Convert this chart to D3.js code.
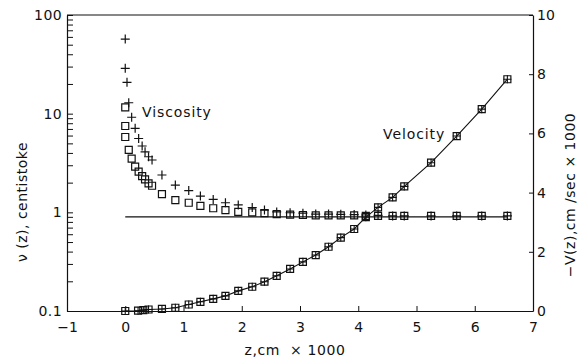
<!DOCTYPE html>
<html>
<head>
<meta charset="utf-8">
<script src="https://cdn.jsdelivr.net/npm/d3@7"></script>
<style>
  html, body { margin: 0; padding: 0; background: #fff; }
  svg { display: block; }
  text { font-family: "DejaVu Sans", sans-serif; fill: #111; }
</style>
</head>
<body>
<svg id="chart" width="584" height="361"></svg>
<script>
// Viscosity profile, "+" symbols (centistoke) vs height z (cm x 1000)
const plusZ = [0, 0, 0.03, 0.06, 0.11, 0.17, 0.23, 0.29, 0.34, 0.40, 0.46, 0.63, 0.86, 1.09, 1.29, 1.51, 1.72, 1.94, 2.18, 2.39, 2.60, 2.83, 3.05, 3.27, 3.49, 3.70, 3.93, 4.13, 4.34, 4.59, 4.79, 5.25, 5.69, 6.12, 6.56];
const plusV = [57, 28.8, 20.8, 12.9, 9.2, 7.1, 5.6, 4.7, 4.1, 3.66, 3.39, 2.39, 1.89, 1.66, 1.46, 1.35, 1.25, 1.19, 1.12, 1.055, 1.01, 0.99, 0.98, 0.96, 0.96, 0.955, 0.95, 0.94, 0.93, 0.92, 0.92, 0.92, 0.92, 0.92, 0.92];

// Viscosity profile, square symbols
const boxZ = [0, 0, 0, 0.06, 0.11, 0.17, 0.23, 0.29, 0.34, 0.40, 0.46, 0.63, 0.86, 1.09, 1.29, 1.51, 1.72, 1.94, 2.18, 2.39, 2.60, 2.83, 3.05, 3.27, 3.49, 3.70, 3.93, 4.13, 4.34, 4.59, 4.79, 5.25, 5.69, 6.12, 6.56];
const boxV = [11.6, 7.5, 5.8, 4.3, 3.5, 2.9, 2.58, 2.33, 2.16, 1.97, 1.86, 1.53, 1.33, 1.25, 1.16, 1.10, 1.055, 1.01, 1.0, 0.98, 0.96, 0.95, 0.94, 0.93, 0.93, 0.93, 0.93, 0.92, 0.92, 0.92, 0.92, 0.92, 0.92, 0.92, 0.92];

// Bulk viscosity reference line
const bulkViscosity = 0.9;
const bulkZ = [0, 6.56];

// Velocity profile, -V(z) in cm/sec x 1000
const velZ = [0, 0.22, 0.31, 0.40, 0.63, 0.86, 1.09, 1.29, 1.51, 1.72, 1.94, 2.18, 2.39, 2.60, 2.83, 3.05, 3.27, 3.49, 3.70, 3.93, 4.13, 4.34, 4.59, 4.79, 5.25, 5.69, 6.12, 6.56];
const velV = [0, 0.01, 0.03, 0.05, 0.07, 0.11, 0.22, 0.31, 0.41, 0.51, 0.68, 0.82, 0.99, 1.19, 1.42, 1.66, 1.89, 2.17, 2.48, 2.77, 3.17, 3.50, 3.84, 4.21, 5.01, 5.91, 6.82, 7.83];

// Axis ticks
const xTicks = [-1, 0, 1, 2, 3, 4, 5, 6, 7];
const leftMajor = [0.1, 1, 10, 100];
const leftLabels = ["0.1", "1", "10", "100"];
const rightTicks = [0, 2, 4, 6, 8, 10];

const svg = d3.select("#chart");
const ink = "#111";

const x = d3.scaleLinear().domain([-1, 7]).range([67, 533]);
const yL = d3.scaleLog().domain([0.1, 100]).range([311, 15]);
const yR = d3.scaleLinear().domain([0, 10]).range([311, 15]);

// All log ticks (1..9 in each decade)
const leftAll = yL.ticks();

// Frame top line
svg.append("line")
  .attr("x1", x(-1)).attr("x2", x(7))
  .attr("y1", yL(100)).attr("y2", yL(100))
  .attr("stroke", ink).attr("stroke-width", 1.2);

// Bottom axis (ticks point inward)
const gx = svg.append("g").attr("transform", `translate(0,${yL(0.1)})`)
  .call(d3.axisBottom(x).tickValues(xTicks).tickSizeInner(-5).tickSizeOuter(0)
    .tickPadding(11).tickFormat(d3.format("d")));

// Left log axis
const gl = svg.append("g").attr("transform", `translate(${x(-1)},0)`)
  .call(d3.axisLeft(yL).tickValues(leftAll).tickSizeInner(-6).tickSizeOuter(0)
    .tickPadding(5)
    .tickFormat(d => { const i = leftMajor.findIndex(v => Math.abs(v - d) < 1e-9); return i >= 0 ? leftLabels[i] : ""; }));

// Right linear axis
const gr = svg.append("g").attr("transform", `translate(${x(7)},0)`)
  .call(d3.axisRight(yR).tickValues(rightTicks).tickSizeInner(-4).tickSizeOuter(0)
    .tickPadding(4).tickFormat(d3.format("d")));

[gx, gl, gr].forEach(g => {
  g.select(".domain").attr("stroke", ink).attr("stroke-width", 1.2);
  g.selectAll(".tick line").attr("stroke", ink).attr("stroke-width", 1);
  g.selectAll(".tick text").attr("font-family", "DejaVu Sans, sans-serif")
    .attr("font-size", 14).attr("fill", ink);
});
gl.selectAll(".tick text").attr("letter-spacing", 0.4);

// Custom plus glyph for d3.symbol
const plusSymbol = {
  draw(ctx, size) {
    const r = Math.sqrt(size) / 2;
    ctx.moveTo(-r, 0); ctx.lineTo(r, 0);
    ctx.moveTo(0, -r); ctx.lineTo(0, r);
  }
};
const plusPath = d3.symbol().type(plusSymbol).size(81)();
const boxPath = d3.symbol().type(d3.symbolSquare).size(49)();
const velPlusPath = d3.symbol().type(plusSymbol).size(64)();

// Bulk viscosity line
svg.append("line")
  .attr("x1", x(bulkZ[0])).attr("x2", x(bulkZ[1]))
  .attr("y1", yL(bulkViscosity)).attr("y2", yL(bulkViscosity))
  .attr("stroke", ink).attr("stroke-width", 1.2);

// Velocity line
const velPts = velZ.map((z, i) => [z, velV[i]]);
svg.append("path")
  .attr("d", d3.line().x(d => x(d[0])).y(d => yR(d[1]))(velPts))
  .attr("fill", "none").attr("stroke", ink).attr("stroke-width", 1.1);

// Viscosity squares
svg.append("g").selectAll("path").data(boxZ.map((z, i) => [z, boxV[i]])).join("path")
  .attr("transform", d => `translate(${x(d[0])},${yL(d[1])})`)
  .attr("d", boxPath).attr("fill", "none").attr("stroke", ink).attr("stroke-width", 1.2);

// Viscosity plus marks
svg.append("g").selectAll("path").data(plusZ.map((z, i) => [z, plusV[i]])).join("path")
  .attr("transform", d => `translate(${x(d[0])},${yL(d[1])})`)
  .attr("d", plusPath).attr("fill", "none").attr("stroke", ink).attr("stroke-width", 1.2);

// Velocity markers: square with plus inside
const gv = svg.append("g").selectAll("g").data(velPts).join("g")
  .attr("transform", d => `translate(${x(d[0])},${yR(d[1])})`);
gv.append("path").attr("d", boxPath).attr("fill", "none").attr("stroke", ink).attr("stroke-width", 1.2);
gv.append("path").attr("d", velPlusPath).attr("fill", "none").attr("stroke", ink).attr("stroke-width", 1.1);

// Series labels
svg.append("text").attr("x", 142).attr("y", 117).attr("font-size", 14)
  .attr("letter-spacing", 0.9).text("Viscosity");
svg.append("text").attr("x", 383).attr("y", 139).attr("font-size", 14)
  .attr("letter-spacing", 0.9).text("Velocity");

// Axis titles
svg.append("text").attr("x", 295).attr("y", 355).attr("font-size", 14)
  .attr("text-anchor", "middle").attr("letter-spacing", 0.6)
  .attr("xml:space", "preserve").text("z,cm  × 1000");

svg.append("text").attr("transform", "translate(27,202) rotate(-90)")
  .attr("font-size", 14).attr("text-anchor", "middle").attr("letter-spacing", 0.5)
  .attr("xml:space", "preserve").text("ν (z), centistoke");

svg.append("text").attr("transform", "translate(575,195) rotate(-90)")
  .attr("font-size", 14).attr("text-anchor", "middle").attr("letter-spacing", 0.5)
  .attr("xml:space", "preserve").text("−V(z),cm /sec × 1000");
</script>
</body>
</html>
